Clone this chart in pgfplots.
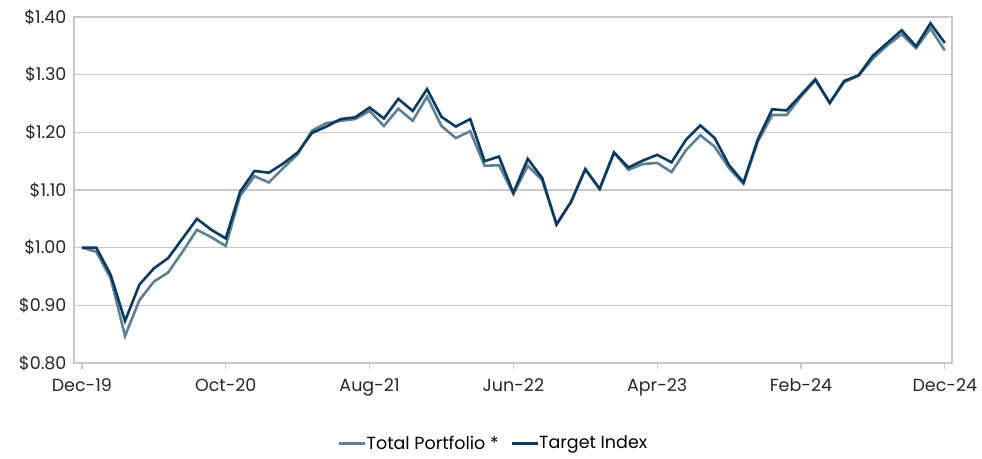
\documentclass[border=0pt]{standalone}
\usepackage{pgfplots}
\pgfplotsset{compat=1.18}
\usepackage{fontspec}
\setmainfont{Poppins}
\definecolor{tgt}{HTML}{0C3A5E}
\definecolor{port}{HTML}{5F7F92}
\definecolor{gridc}{HTML}{C8C8C8}
\begin{document}
\begin{tikzpicture}
\begin{axis}[
  scale only axis,
  width=878pt, height=346pt,
  xmin=-0.55, xmax=60.5,
  ymin=0.8, ymax=1.4,
  xtick={0,10,20,30,40,50,60},
  xticklabels={Dec-19,Oct-20,Aug-21,Jun-22,Apr-23,Feb-24,Dec-24},
  ytick={0.8,0.9,1.0,1.1,1.2,1.3,1.4},
  yticklabels={\$0.80,\$0.90,\$1.00,\$1.10,\$1.20,\$1.30,\$1.40},
  ymajorgrids,
  grid style={gridc, line width=1.2pt},
  axis line style={gridc, line width=1.2pt},
  x tick style={gridc, line width=1.2pt},
  major tick length=6pt,
  xtick pos=bottom, xtick align=outside,
  ytick style={draw=none},
  tick label style={font=\fontsize{17.5}{20}\selectfont, text=black!85},
  xticklabel style={yshift=-6pt},
  yticklabel style={xshift=-4pt},
  legend style={at={(0.478,-0.232)}, anchor=center, draw=none,
    font=\fontsize{17.5}{20}\selectfont, legend columns=2,
    /tikz/every even column/.append style={column sep=10pt},
    /tikz/every odd column/.append style={column sep=-2pt}},
  legend image code/.code={\draw[#1, line width=2.5pt] (0pt,0pt) -- (26pt,0pt);},
]
\addplot[port, line width=2.6pt] coordinates {
(0,1.000)(1,0.993)(2,0.947)(3,0.847)(4,0.909)(5,0.941)(6,0.957)(7,0.993)(8,1.031)(9,1.018)
(10,1.003)(11,1.090)(12,1.124)(13,1.113)(14,1.138)(15,1.162)(16,1.203)(17,1.216)(18,1.220)(19,1.223)
(20,1.237)(21,1.211)(22,1.241)(23,1.220)(24,1.262)(25,1.211)(26,1.190)(27,1.202)(28,1.142)(29,1.143)
(30,1.093)(31,1.142)(32,1.117)(33,1.041)(34,1.079)(35,1.136)(36,1.102)(37,1.165)(38,1.135)(39,1.145)
(40,1.147)(41,1.131)(42,1.169)(43,1.195)(44,1.175)(45,1.138)(46,1.111)(47,1.184)(48,1.230)(49,1.230)
(50,1.262)(51,1.290)(52,1.251)(53,1.287)(54,1.298)(55,1.328)(56,1.351)(57,1.370)(58,1.346)(59,1.380)
(60,1.342)};
\addlegendentry{Total Portfolio *}
\addplot[tgt, line width=2.6pt] coordinates {
(0,1.000)(1,1.000)(2,0.953)(3,0.873)(4,0.936)(5,0.964)(6,0.982)(7,1.016)(8,1.050)(9,1.031)
(10,1.016)(11,1.097)(12,1.133)(13,1.130)(14,1.146)(15,1.165)(16,1.199)(17,1.210)(18,1.223)(19,1.226)
(20,1.243)(21,1.224)(22,1.258)(23,1.237)(24,1.275)(25,1.227)(26,1.210)(27,1.223)(28,1.150)(29,1.158)
(30,1.095)(31,1.154)(32,1.121)(33,1.040)(34,1.079)(35,1.136)(36,1.102)(37,1.165)(38,1.139)(39,1.151)
(40,1.161)(41,1.148)(42,1.187)(43,1.212)(44,1.190)(45,1.143)(46,1.113)(47,1.188)(48,1.240)(49,1.238)
(50,1.265)(51,1.292)(52,1.251)(53,1.289)(54,1.299)(55,1.333)(56,1.355)(57,1.377)(58,1.349)(59,1.389)
(60,1.355)};
\addlegendentry{Target Index}
\end{axis}
\pgfresetboundingbox
\useasboundingbox (current axis.south west) ++(-74pt,-95pt) rectangle ++(982pt,458pt);
\end{tikzpicture}
\end{document}
